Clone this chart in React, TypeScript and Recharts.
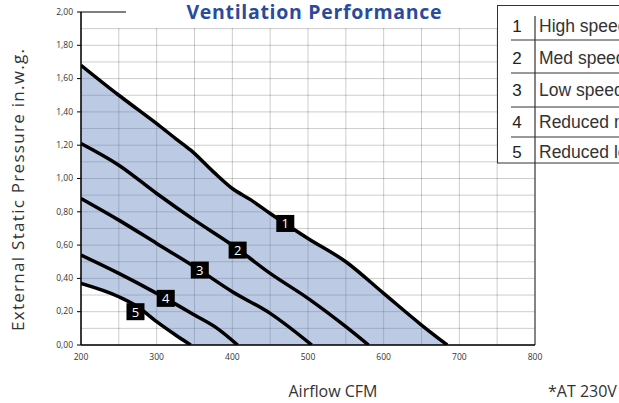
import {
  ComposedChart,
  Area,
  Line,
  XAxis,
  YAxis,
  CartesianGrid,
  ReferenceDot,
  ReferenceLine,
} from "recharts";

// airflow (CFM) / external static pressure (in.w.g.) per fan speed
const cfmHigh = [200, 250, 275, 300, 325, 345, 375, 400, 425, 450, 500, 550, 600, 650, 684];
const spHigh = [1.68, 1.5, 1.415, 1.33, 1.24, 1.17, 1.04, 0.94, 0.87, 0.79, 0.64, 0.5, 0.31, 0.12, 0];
const cfmMed = [200, 250, 300, 350, 400, 450, 500, 550, 580];
const spMed = [1.21, 1.08, 0.91, 0.75, 0.6, 0.43, 0.28, 0.11, 0];
const cfmLow = [200, 250, 300, 350, 400, 450, 505];
const spLow = [0.88, 0.75, 0.61, 0.47, 0.32, 0.19, 0];
const cfmRedMed = [200, 250, 300, 350, 380, 407];
const spRedMed = [0.54, 0.43, 0.31, 0.18, 0.1, 0];
const cfmRedLow = [200, 250, 275, 300, 325, 345];
const spRedLow = [0.37, 0.29, 0.23, 0.14, 0.06, 0];

const tagNames = ["1", "2", "3", "4", "5"];
const tagCfm = [470, 407, 357, 312, 272];
const tagSp = [0.73, 0.57, 0.45, 0.28, 0.2];

const legendLabels = [
  "High speed",
  "Med speed",
  "Low speed",
  "Reduced med speed",
  "Reduced low speed",
];

const xTicks = [200, 250, 300, 350, 400, 450, 500, 550, 600, 650, 700, 750, 800];
const yTicks = [
  0, 0.1, 0.2, 0.3, 0.4, 0.5, 0.6, 0.7, 0.8, 0.9, 1.0, 1.1, 1.2, 1.3, 1.4, 1.5,
  1.6, 1.7, 1.8, 1.9, 2.0,
];

const zip = (xs: number[], ys: number[]) =>
  xs.map((cfm, i) => ({ cfm, sp: ys[i] }));

const high = zip(cfmHigh, spHigh);
const med = zip(cfmMed, spMed);
const low = zip(cfmLow, spLow);
const redMed = zip(cfmRedMed, spRedMed);
const redLow = zip(cfmRedLow, spRedLow);
const curves = [high, med, low, redMed, redLow];

// operating envelope: between high speed and reduced low speed (which sits on the axis past 345)
const envelope = cfmHigh.map((cfm, i) => ({
  cfm,
  range: [i < spRedLow.length ? spRedLow[i] : 0, spHigh[i]],
}));

const tickFont = "Open Sans, sans-serif";

function XTick(props: any) {
  const { x, y, payload } = props;
  if (payload.value % 100 !== 0) return <g />;
  return (
    <text x={x} y={y} dy="0.71em" textAnchor="middle" fontSize={8.5} fill="#333" fontFamily={tickFont}>
      {payload.value}
    </text>
  );
}

function YTick(props: any) {
  const { x, y, payload } = props;
  const v = Math.round(payload.value * 10);
  if (v % 2 !== 0) return <g />;
  return (
    <g>
      <line x1={x + 4} x2={x + 8} y1={y} y2={y} stroke="#000" strokeWidth={1} />
      <text x={x} y={y} dy="0.32em" textAnchor="end" fontSize={8.5} fill="#333" fontFamily={tickFont}>
        {payload.value.toFixed(2).replace(".", ",")}
      </text>
    </g>
  );
}

function Tag({ cx, cy, label }: any) {
  return (
    <g>
      <rect x={cx - 9} y={cy - 8.5} width={18} height={17} fill="#000" />
      <text x={cx} y={cy + 5} textAnchor="middle" fontSize={13} fill="#fff" fontFamily={tickFont}>
        {label}
      </text>
    </g>
  );
}

export default function App() {
  const rowLines = [40, 73, 107, 137];
  const rowBase = [32, 64, 96, 128, 158];
  return (
    <div
      style={{
        position: "absolute",
        left: 0,
        top: 0,
        width: 619,
        height: 403,
        overflow: "hidden",
        background: "#fff",
      }}
    >
      <ComposedChart width={619} height={403} margin={{ top: 12, right: 84, bottom: 28, left: 21 }}>
        <CartesianGrid stroke="#000" strokeOpacity={0.2} />
        <XAxis
          type="number"
          dataKey="cfm"
          domain={[200, 800]}
          ticks={xTicks}
          interval={0}
          allowDataOverflow
          tick={<XTick />}
          tickLine={false}
          tickSize={4}
          tickMargin={5}
          height={30}
          axisLine={{ stroke: "#000", strokeWidth: 1.5 }}
        />
        <YAxis
          type="number"
          domain={[0, 2]}
          ticks={yTicks}
          interval={0}
          allowDataOverflow
          tick={<YTick />}
          tickLine={false}
          tickSize={4}
          tickMargin={4}
          width={60}
          axisLine={{ stroke: "#000", strokeWidth: 1.5 }}
        />
        <Area
          data={envelope}
          dataKey="range"
          type="monotone"
          stroke="none"
          fill="rgb(88,123,185)"
          fillOpacity={0.4}
          isAnimationActive={false}
        />
        {curves.map((d, i) => (
          <Line
            key={i}
            data={d}
            dataKey="sp"
            type="monotone"
            stroke="#000"
            strokeWidth={3.5}
            dot={false}
            isAnimationActive={false}
          />
        ))}
        <ReferenceLine x={800} stroke="#444" strokeWidth={1.2} />
        {tagNames.map((t, i) => (
          <ReferenceDot
            key={t}
            x={tagCfm[i]}
            y={tagSp[i]}
            shape={(p: any) => <Tag cx={p.cx} cy={p.cy} label={t} />}
          />
        ))}
      </ComposedChart>
      <svg
        width={619}
        height={403}
        style={{ position: "absolute", left: 0, top: 0, pointerEvents: "none" }}
      >
        <rect x={82} y={0} width={454} height={28} fill="#fff" />
        <line x1={81} x2={126} y1={12} y2={12} stroke="#000" strokeWidth={1.2} />
        <text
          x={314}
          y={19}
          textAnchor="middle"
          fontSize={19.5}
          fontWeight="bold"
          fill="#2a4b9b"
          fontFamily={tickFont}
          textLength={255}
        >
          Ventilation Performance
        </text>
        <rect x={497.5} y={5.5} width={140} height={157.5} fill="#fff" stroke="#333" strokeWidth={1} />
        <line x1={535} x2={535} y1={16} y2={163} stroke="#333" strokeWidth={1.2} />
        {rowLines.map((ry) => (
          <line key={ry} x1={511} x2={619} y1={ry} y2={ry} stroke="#333" strokeWidth={1} />
        ))}
        {legendLabels.map((l, i) => (
          <g key={l}>
            <text x={517} y={rowBase[i]} textAnchor="middle" fontSize={17} fill="#222" fontFamily="Liberation Sans, Arial">
              {i + 1}
            </text>
            <text x={539} y={rowBase[i]} fontSize={17.5} fill="#333" fontFamily="Liberation Sans, Arial">
              {l}
            </text>
          </g>
        ))}
        <text
          transform="translate(24,190) rotate(-90)"
          textAnchor="middle"
          fontSize={17}
          fill="#333"
          fontFamily={tickFont}
          textLength={282}
        >
          External Static Pressure in.w.g.
        </text>
        <text x={333} y={397} textAnchor="middle" fontSize={16} fill="#333" fontFamily={tickFont}>
          Airflow CFM
        </text>
        <text x={548} y={397} fontSize={16} fill="#333" fontFamily={tickFont}>
          *AT 230V
        </text>
      </svg>
    </div>
  );
}
